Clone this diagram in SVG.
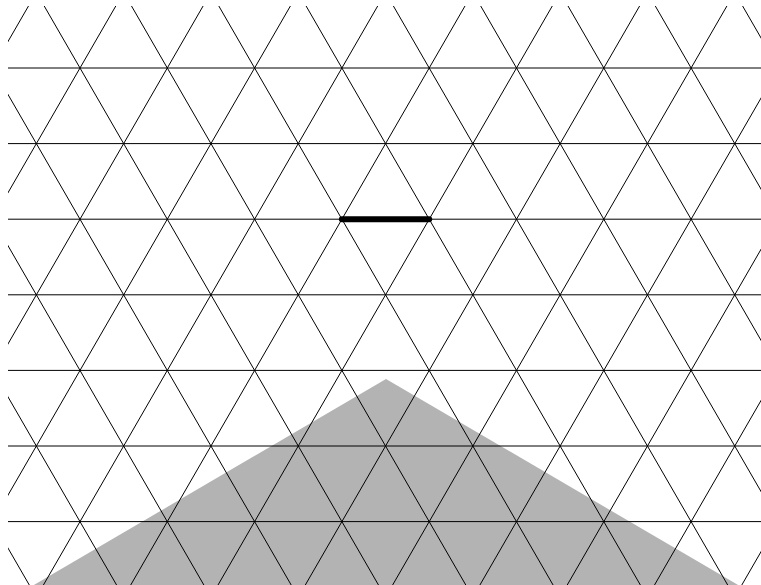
<svg xmlns="http://www.w3.org/2000/svg" width="761" height="585" viewBox="0 0 761 585">
<style>
.g line{stroke:#000;stroke-width:1;fill:none}
.hl{stroke:#000;stroke-width:6;stroke-linecap:round}
</style>
<defs>
<clipPath id="c"><rect x="8" y="6" width="760" height="590"/></clipPath>
</defs>
<rect width="761" height="585" fill="#fff"/>
<g id="shade"><polygon points="386,379 -15.7,614 787.7,614" fill="#b3b3b3"/></g>
<g id="grid" class="g" clip-path="url(#c)">
<line x1="0" y1="68" x2="770" y2="68"/>
<line x1="0" y1="143.6" x2="770" y2="143.6"/>
<line x1="0" y1="219.2" x2="770" y2="219.2"/>
<line x1="0" y1="294.8" x2="770" y2="294.8"/>
<line x1="0" y1="370.4" x2="770" y2="370.4"/>
<line x1="0" y1="446" x2="770" y2="446"/>
<line x1="0" y1="521.6" x2="770" y2="521.6"/>
<line x1="-308.46" y1="0" x2="29.29" y2="585"/>
<line x1="-221.16" y1="0" x2="116.59" y2="585"/>
<line x1="-133.86" y1="0" x2="203.89" y2="585"/>
<line x1="-46.56" y1="0" x2="291.19" y2="585"/>
<line x1="40.74" y1="0" x2="378.49" y2="585"/>
<line x1="128.04" y1="0" x2="465.79" y2="585"/>
<line x1="215.34" y1="0" x2="553.09" y2="585"/>
<line x1="302.64" y1="0" x2="640.39" y2="585"/>
<line x1="389.94" y1="0" x2="727.69" y2="585"/>
<line x1="477.24" y1="0" x2="814.99" y2="585"/>
<line x1="564.54" y1="0" x2="902.29" y2="585"/>
<line x1="651.84" y1="0" x2="989.59" y2="585"/>
<line x1="739.14" y1="0" x2="1076.89" y2="585"/>
<line x1="31.96" y1="0" x2="-305.79" y2="585"/>
<line x1="119.26" y1="0" x2="-218.49" y2="585"/>
<line x1="206.56" y1="0" x2="-131.19" y2="585"/>
<line x1="293.86" y1="0" x2="-43.89" y2="585"/>
<line x1="381.16" y1="0" x2="43.41" y2="585"/>
<line x1="468.46" y1="0" x2="130.71" y2="585"/>
<line x1="555.76" y1="0" x2="218.01" y2="585"/>
<line x1="643.06" y1="0" x2="305.31" y2="585"/>
<line x1="730.36" y1="0" x2="392.61" y2="585"/>
<line x1="817.66" y1="0" x2="479.91" y2="585"/>
<line x1="904.96" y1="0" x2="567.21" y2="585"/>
<line x1="992.26" y1="0" x2="654.51" y2="585"/>
<line x1="1079.56" y1="0" x2="741.81" y2="585"/>
</g>
<g id="edge"><line class="hl" x1="341.9" y1="219.2" x2="429.2" y2="219.2"/></g>
</svg>
